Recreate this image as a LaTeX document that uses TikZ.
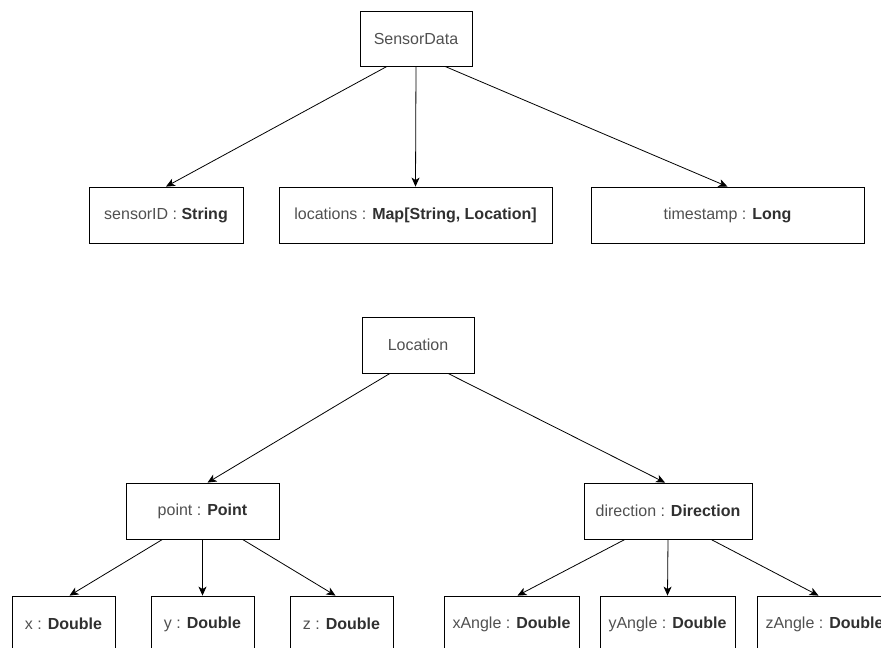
\documentclass[tikz,border=0pt]{standalone}
\usepackage{fontspec}
\setmainfont{Liberation Sans}
\usetikzlibrary{arrows.meta}
\definecolor{txtgray}{HTML}{505050}
\definecolor{boldgray}{HTML}{303030}
\tikzset{
  field/.style={draw,thick,rectangle,minimum height=56pt,inner sep=0pt,
    font=\fontsize{16}{19}\selectfont,text=txtgray},
  arr/.style={thick,-{Stealth[length=9pt,width=8pt,inset=2.5pt]}}
}
\newcommand{\tp}[1]{\textbf{\color{boldgray}#1}}
\begin{document}
\begin{tikzpicture}[x=1pt,y=-1pt]

  \useasboundingbox (0,0) rectangle (881,648);
  \clip (0,0) rectangle (881,648);

% SensorData
\node[field,minimum width=112pt,minimum height=55pt] (sd) at (416,38.5) {SensorData};
\node[field,minimum width=154pt] (sid) at (166,215) {sensorID : \tp{String}};
\node[field,minimum width=273pt] (locs) at (415.5,215) {locations : \tp{Map[String, Location]}};
\node[field,minimum width=273pt] (ts) at (727.5,215) {timestamp : \tp{Long}};

\draw[arr] ([xshift=-29pt]sd.south) -- (sid.north);
\draw[arr] (sd.south) -- (locs.north);
\draw[arr] ([xshift=29pt]sd.south) -- (ts.north);

% Location
\node[field,minimum width=112pt] (lc) at (418,345) {Location};
\node[field,minimum width=153pt] (pt) at (202.5,511) {point : \tp{Point}};
\node[field,minimum width=168pt] (dir) at (668,511) {direction : \tp{Direction}};

\draw[arr] ([xshift=-28pt]lc.south) -- ([xshift=5pt]pt.north);
\draw[arr] ([xshift=30pt]lc.south) -- ([xshift=-3pt]dir.north);

% Point
\foreach \nm/\lb/\cx in {px/x/63.5, py/y/202.5, pz/z/341.5} {
  \node[field,minimum width=103pt] (\nm) at (\cx,624) {\lb\ : \tp{Double}};
}
\draw[arr] ([xshift=-40pt]pt.south) -- ([xshift=6pt]px.north);
\draw[arr] (pt.south) -- (py.north);
\draw[arr] ([xshift=40pt]pt.south) -- ([xshift=-6pt]pz.north);

% Direction
\foreach \nm/\lb/\cx in {dx/xAngle/511.5, dy/yAngle/667.5, dz/zAngle/824.5} {
  \node[field,minimum width=135pt] (\nm) at (\cx,624) {\lb\ : \tp{Double}};
}
\draw[arr] ([xshift=-43pt]dir.south) -- ([xshift=6pt]dx.north);
\draw[arr] (dir.south) -- (dy.north);
\draw[arr] ([xshift=43pt]dir.south) -- ([xshift=-6pt]dz.north);

\end{tikzpicture}
\end{document}
